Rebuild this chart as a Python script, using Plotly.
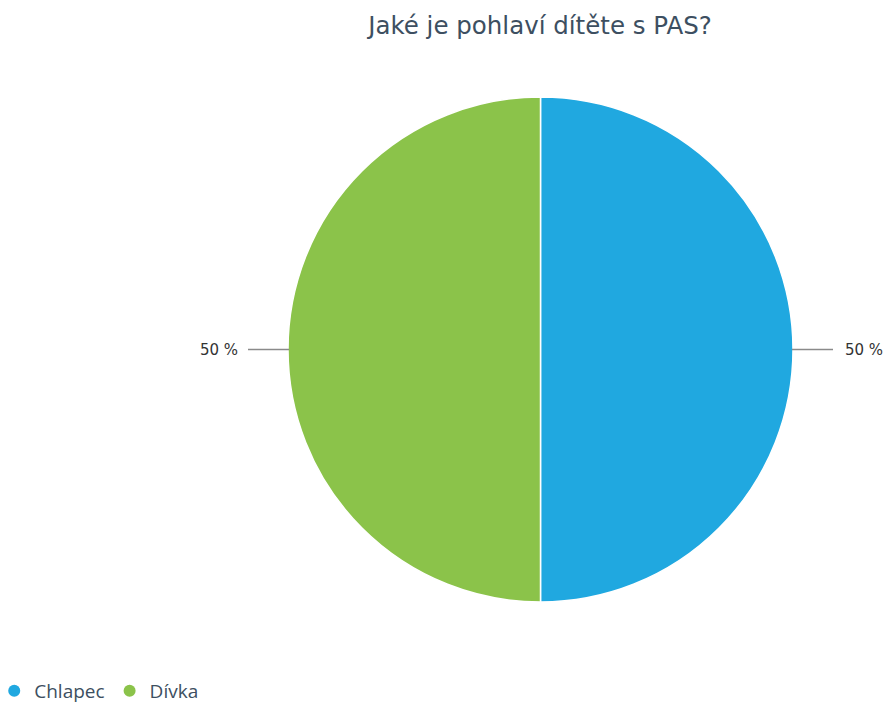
import math
import plotly.graph_objects as go

labels = ["Chlapec", "Dívka"]
values = [50, 50]
colors = ["#20a8e0", "#8bc34a"]
title = "Jaké je pohlaví dítěte s PAS?"

W, H = 888, 704
cx, cy, R = 540.5, 349.5, 251.5
RD = R + 1
dom_x = [(cx - RD) / W, (cx + RD) / W]
dom_y = [1 - (cy + RD) / H, 1 - (cy - RD) / H]

fig = go.Figure()
fig.add_trace(go.Pie(
    labels=labels, values=values, sort=False, direction="clockwise", rotation=0,
    marker=dict(colors=colors, line=dict(color="white", width=1.5)),
    textinfo="none", hoverinfo="label+percent", showlegend=False,
    domain=dict(x=dom_x, y=dom_y),
))
for lab, col in zip(labels, colors):
    fig.add_trace(go.Scatter(x=[None], y=[None], mode="markers", name=lab,
                             marker=dict(symbol="circle", size=12, color=col)))

total = sum(values)
cum = 0
for v in values:
    mid = (cum + v / 2) / total * 2 * math.pi
    cum += v
    dx, dy = math.sin(mid), -math.cos(mid)
    x0 = cx + dx * R
    y0 = cy + dy * R
    x1 = cx + dx * (R + 41)
    y1 = cy + dy * (R + 41)
    fig.add_shape(type="line", xref="paper", yref="paper",
                  x0=x0 / W, y0=1 - y0 / H, x1=x1 / W, y1=1 - y1 / H,
                  line=dict(color="#8a8a8a", width=1.5))
    right = dx >= 0
    fig.add_annotation(xref="paper", yref="paper", x=(x1 + (10 if right else -8)) / W,
                       y=1 - y1 / H, text=f"{round(v / total * 100)} %", showarrow=False,
                       xanchor="left" if right else "right", yanchor="middle",
                       font=dict(family="DejaVu Sans", size=15, color="#333333"))

fig.update_layout(
    width=W, height=H, margin=dict(l=0, r=0, t=0, b=0, autoexpand=False),
    paper_bgcolor="white", plot_bgcolor="white",
    title=dict(text=title, x=540 / W, xanchor="center", y=1 - 25 / H, yanchor="middle",
               font=dict(family="DejaVu Sans", size=24.5, color="#3d4f61")),
    xaxis=dict(visible=False), yaxis=dict(visible=False),
    legend=dict(orientation="h", x=-0.0065, xanchor="left", y=1 - 691 / H, yanchor="middle",
                font=dict(family="Open Sans", size=19, color="#3d4f61"),
                itemsizing="constant", bgcolor="rgba(0,0,0,0)", tracegroupgap=0),
)
fig.write_html("out.html")
